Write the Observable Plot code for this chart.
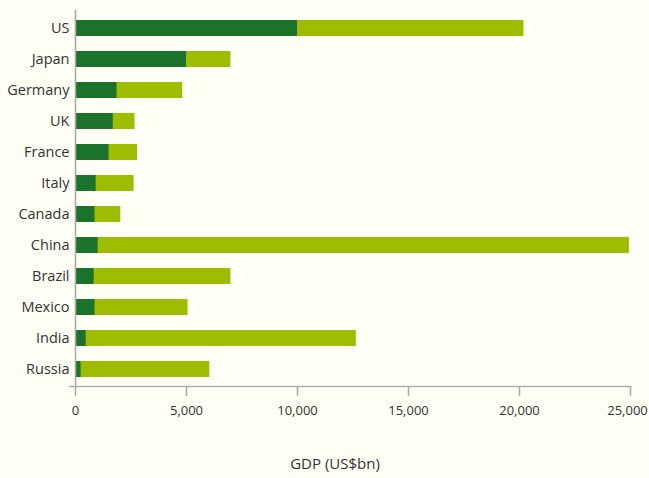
<!DOCTYPE html>
<html>
<head>
<meta charset="utf-8">
<script src="https://cdn.jsdelivr.net/npm/d3@7"></script>
<script src="https://cdn.jsdelivr.net/npm/@observablehq/plot@0.6"></script>
<style>
  html, body { margin: 0; padding: 0; background: #fefef5; }
  #chart svg { display: block; }
</style>
</head>
<body>
<div id="chart"></div>
<script>
const countries = ["US", "Japan", "Germany", "UK", "France", "Italy", "Canada", "China", "Brazil", "Mexico", "India", "Russia"];
const gdpNow   = [10000, 5000, 1870, 1700, 1510, 930, 880, 1020, 840, 880, 480, 250];
const gdpLater = [20200, 7000, 4830, 2680, 2800, 2640, 2040, 24950, 7000, 5070, 12650, 6050];
const xTicks = [0, 5000, 10000, 15000, 20000, 25000];
const axisTitle = "GDP (US$bn)";

const rows = countries.map((c, i) => ({country: c, now: gdpNow[i], later: gdpLater[i]}));
const fmt = d3.format(",");

const chart = Plot.plot({
  width: 649,
  height: 478,
  marginTop: 10,
  marginBottom: 92,
  marginLeft: 75,
  marginRight: 19,
  style: {background: "#fefef5", fontFamily: "'Open Sans', sans-serif", fontSize: "14.5px", color: "#333"},
  x: {domain: [0, 25000]},
  y: {domain: countries, paddingInner: 0.487, paddingOuter: 0.273},
  marks: [
    Plot.barX(rows, {y: "country", x: "later", fill: "#9ebd00"}),
    Plot.barX(rows, {y: "country", x: "now", fill: "#1b722b"}),
    Plot.frame({anchor: "left", stroke: "#a8a8a8", strokeWidth: 1.5}),
    Plot.frame({anchor: "bottom", stroke: "#b0b0b0", strokeWidth: 1.5, insetLeft: -6}),
    Plot.axisX({ticks: xTicks, tickSize: 10, text: null, stroke: "#a8a8a8", strokeWidth: 1.5, label: null}),
    Plot.axisX({ticks: xTicks.slice(0, -1), tickFormat: fmt, tickSize: 0, tickPadding: 19, label: null, fill: "#333", fontSize: 13}),
    Plot.axisX({ticks: xTicks.slice(-1), tickFormat: fmt, tickSize: 0, tickPadding: 19, label: null, fill: "#333", fontSize: 13, dx: -3}),
    Plot.axisY({tickSize: 0, tickPadding: 6, label: null, fill: "#333"}),
    Plot.text([axisTitle], {frameAnchor: "bottom", dy: 82, dx: -18, fill: "#333", fontSize: 15})
  ]
});
document.getElementById("chart").appendChild(chart);
</script>
</body>
</html>
